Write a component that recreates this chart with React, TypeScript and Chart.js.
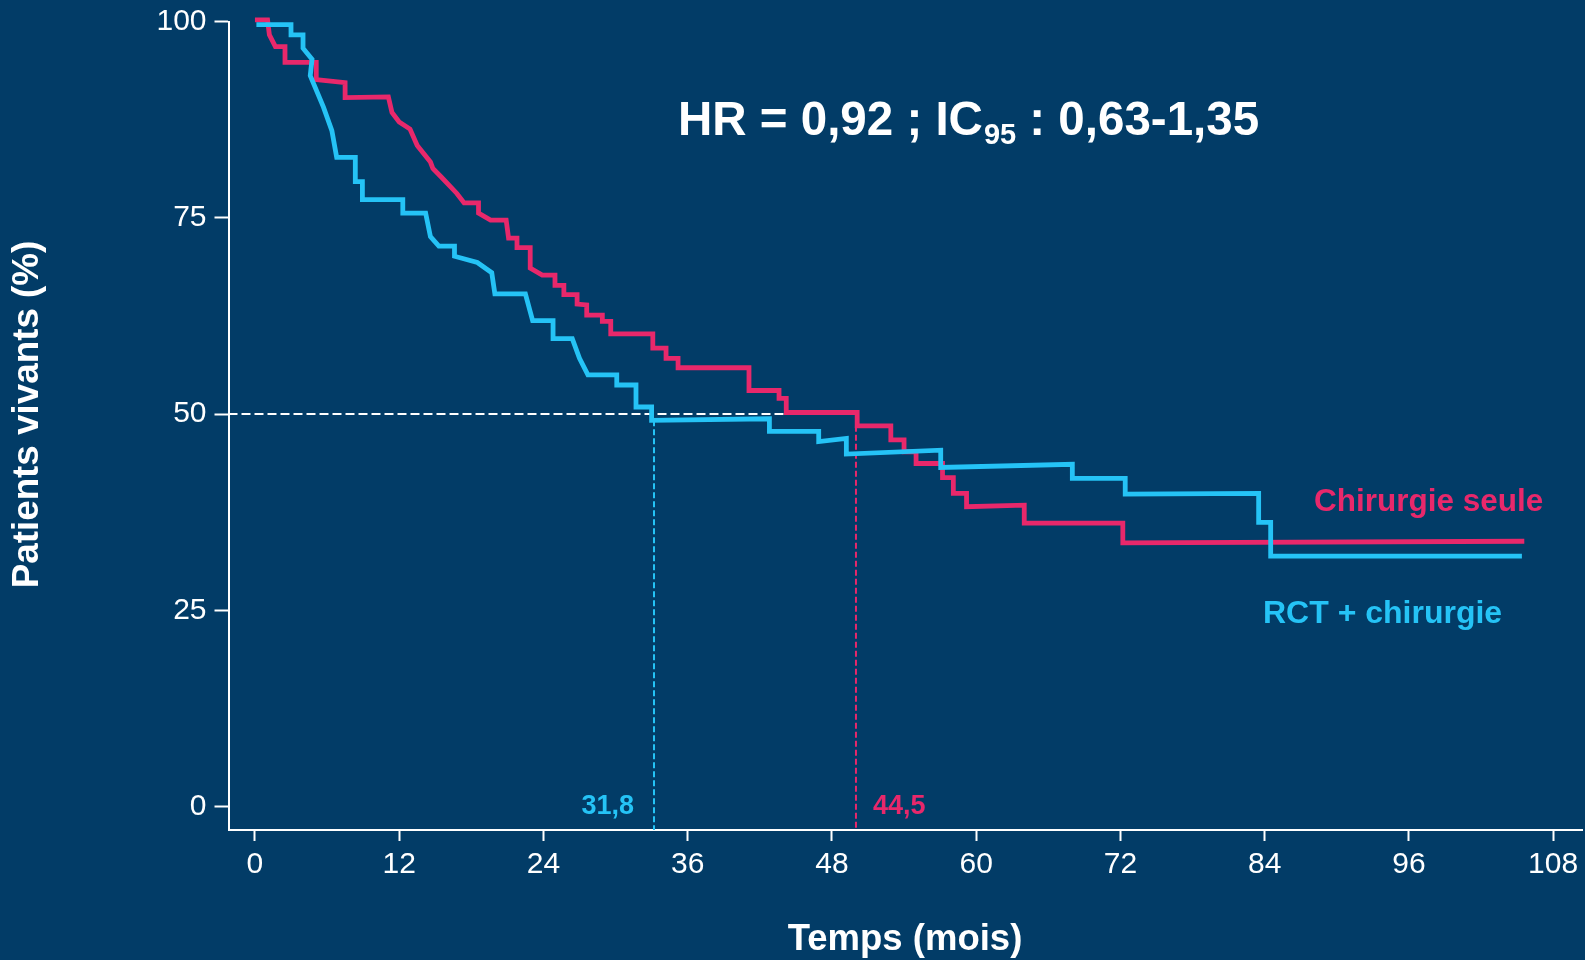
import React, { useEffect, useRef } from "react";
import { Chart, registerables } from "chart.js";

Chart.register(...registerables);

const FONT = "'Liberation Sans', Arial, sans-serif";
const BG = "#023c67";
const RED = "#e8286b";
const BLUE = "#25c3f6";
const WHITE = "#ffffff";

// Axis definition
const xTicks = [0, 12, 24, 36, 48, 60, 72, 84, 96, 108];
const yTicks = [0, 25, 50, 75, 100];
const xMin = -2.2;
const xMax = 110.4;
const yMin = -2.98;
const yMax = 100;

// Chirurgie seule (red)
const chirX = [
  0, 1.05, 1.2, 1.7, 2.5, 2.5, 5.1, 5.1, 7.5, 7.5, 11.1, 11.4, 12.0, 12.9, 13.5, 14.6, 14.8, 15.5,
  16.8, 17.4, 18.6, 18.6, 19.6, 20.9, 21.1, 21.8, 21.8, 22.9, 22.9, 23.9, 24.96, 24.96, 25.7, 25.7,
  26.8, 26.8, 27.6, 27.6, 28.9, 28.9, 29.6, 29.6, 33.1, 33.1, 34.2, 34.2, 35.2, 35.2, 41.1, 41.1,
  43.6, 43.6, 44.2, 44.2, 50.1, 50.1, 52.9, 52.9, 54.0, 54.0, 55.0, 55.0, 57.2, 57.2, 58.1, 58.1,
  59.2, 59.2, 64.0, 64.0, 72.2, 72.2, 105.6,
];
const chirY = [
  100.2, 100.2, 98.3, 96.8, 96.8, 94.8, 94.8, 92.6, 92.2, 90.3, 90.4, 88.4, 87.2, 86.3, 84.2, 82.1, 81.3, 80.2,
  78.1, 76.9, 76.9, 75.6, 74.7, 74.7, 72.4, 72.4, 71.2, 71.2, 68.6, 67.7, 67.7, 66.4, 66.4, 65.2,
  65.2, 64.0, 63.9, 62.6, 62.6, 61.8, 61.8, 60.2, 60.2, 58.4, 58.4, 57.1, 57.1, 55.9, 55.9, 53.0,
  53.0, 52.0, 52.0, 50.2, 50.2, 48.5, 48.5, 46.7, 46.7, 45.2, 45.2, 43.7, 43.7, 41.9, 41.9, 39.9,
  39.9, 38.2, 38.4, 36.1, 36.1, 33.6, 33.8,
];

// RCT + chirurgie (blue)
const rctX = [
  0.12, 3.0, 3.0, 4.0, 4.0, 4.75, 4.6, 5.7, 6.4, 6.8, 8.35, 8.35, 8.94, 8.94, 12.3, 12.3, 14.2, 14.6,
  15.3, 16.6, 16.6, 18.5, 19.7, 19.96, 22.5, 23.1, 24.8, 24.8, 26.4, 27.0, 27.7, 30.1, 30.1, 31.7,
  31.7, 33.0, 33.0, 42.8, 42.8, 46.9, 46.9, 49.2, 49.2, 57.05, 57.05, 68.0, 68.0, 72.4, 72.4, 83.5,
  83.5, 84.5, 84.5, 105.4,
];
const rctY = [
  99.6, 99.6, 98.3, 98.3, 96.6, 95.2, 93.1, 89.1, 86.1, 82.7, 82.7, 79.6, 79.6, 77.3, 77.3, 75.6, 75.6, 72.6,
  71.4, 71.4, 70.1, 69.3, 68.0, 65.3, 65.3, 61.9, 61.9, 59.6, 59.6, 57.1, 55.0, 55.0, 53.7, 53.7,
  50.9, 50.9, 49.2, 49.4, 47.8, 47.8, 46.5, 46.9, 44.9, 45.4, 43.2, 43.6, 41.8, 41.8, 39.8, 39.9,
  36.2, 36.2, 31.9, 31.9,
];

// Median guide lines
const medianLevel = 50;
const medianRctX = 33.2;
const medianRctY = 49.2;
const medianChirX = 50.0;
const medianChirY = 48.5;
const medianRctLabel = "31,8";
const medianChirLabel = "44,5";

// Texts
const hrMain = "HR = 0,92 ; IC";
const hrSub = "95";
const hrTail = " : 0,63-1,35";
const xTitle = "Temps (mois)";
const yTitle = "Patients vivants (%)";
const chirLabel = "Chirurgie seule";
const rctLabel = "RCT + chirurgie";

const zip = (xs: number[], ys: number[]) => xs.map((x, i) => ({ x, y: ys[i] }));

const textPlugin = {
  id: "texts",
  beforeDraw(chart: any) {
    const { ctx, width, height } = chart;
    ctx.save();
    ctx.fillStyle = BG;
    ctx.fillRect(0, 0, width, height);
    ctx.restore();
  },
  afterDraw(chart: any) {
    const { ctx } = chart;
    const x = chart.scales.x;
    const y = chart.scales.y;
    ctx.save();
    // HR text
    ctx.fillStyle = WHITE;
    ctx.textAlign = "left";
    ctx.textBaseline = "alphabetic";
    let hx = 678;
    const hy = 135;
    ctx.font = `bold 47.5px ${FONT}`;
    ctx.fillText(hrMain, hx, hy);
    hx += ctx.measureText(hrMain).width + 1;
    ctx.font = `bold 29px ${FONT}`;
    ctx.fillText(hrSub, hx, hy + 9);
    hx += ctx.measureText(hrSub).width;
    ctx.font = `bold 47.5px ${FONT}`;
    ctx.fillText(hrTail, hx, hy);

    // Axis titles
    ctx.textBaseline = "middle";
    ctx.textAlign = "center";
    ctx.font = `bold 36.5px ${FONT}`;
    ctx.fillText(xTitle, 905, 940);
    ctx.save();
    ctx.translate(28, 414.5);
    ctx.rotate(-Math.PI / 2);
    ctx.font = `bold 36.8px ${FONT}`;
    ctx.fillText(yTitle, 0, 0);
    ctx.restore();

    // Series labels
    ctx.textAlign = "left";
    ctx.font = `bold 31.5px ${FONT}`;
    ctx.fillStyle = RED;
    ctx.fillText(chirLabel, 1314, 502);
    ctx.font = `bold 32px ${FONT}`;
    ctx.fillStyle = BLUE;
    ctx.fillText(rctLabel, 1263, 614);

    // Median labels
    ctx.font = `bold 27px ${FONT}`;
    ctx.textAlign = "right";
    ctx.fillStyle = BLUE;
    ctx.fillText(medianRctLabel, x.getPixelForValue(medianRctX) - 20, y.getPixelForValue(0));
    ctx.textAlign = "left";
    ctx.fillStyle = RED;
    ctx.fillText(medianChirLabel, x.getPixelForValue(medianChirX) + 17, y.getPixelForValue(0));
    ctx.restore();
  },
};

export default function App() {
  const ref = useRef<HTMLCanvasElement | null>(null);

  useEffect(() => {
    document.body.style.margin = "0";
    document.body.style.background = BG;
    const canvas = ref.current;
    if (!canvas) return;
    const chart = new Chart(canvas, {
      type: "line",
      data: {
        datasets: [
          {
            label: rctLabel,
            data: zip(rctX, rctY),
            borderColor: BLUE,
            borderWidth: 4.8,
            pointRadius: 0,
            tension: 0,
            fill: false,
            clip: false as any,
            borderJoinStyle: "miter",
          },
          {
            label: chirLabel,
            data: zip(chirX, chirY),
            borderColor: RED,
            borderWidth: 4.8,
            pointRadius: 0,
            tension: 0,
            fill: false,
            clip: false as any,
            borderJoinStyle: "miter",
          },
          {
            label: "median",
            data: [
              { x: xMin, y: medianLevel },
              { x: medianChirX, y: medianLevel },
            ],
            borderColor: WHITE,
            borderWidth: 2,
            borderDash: [9, 4],
            pointRadius: 0,
            fill: false,
          },
          {
            label: "median rct",
            data: [
              { x: medianRctX, y: medianRctY },
              { x: medianRctX, y: yMin },
            ],
            borderColor: BLUE,
            borderWidth: 2,
            borderDash: [6, 3],
            pointRadius: 0,
            fill: false,
          },
          {
            label: "median chir",
            data: [
              { x: medianChirX, y: medianChirY },
              { x: medianChirX, y: yMin },
            ],
            borderColor: RED,
            borderWidth: 2,
            borderDash: [6, 3],
            pointRadius: 0,
            fill: false,
          },
        ],
      },
      options: {
        responsive: false,
        animation: false,
        devicePixelRatio: 1,
        layout: { padding: { top: 21.5, right: 3, left: 0, bottom: 0 } },
        plugins: {
          legend: { display: false },
          tooltip: { enabled: false },
          title: { display: false },
        },
        scales: {
          x: {
            type: "linear",
            min: xMin,
            max: xMax,
            afterBuildTicks: (s: any) => {
              s.ticks = xTicks.map((v) => ({ value: v }));
            },
            afterFit: (s: any) => {
              s.height = 130;
              s.paddingLeft = 0;
              s.paddingRight = 0;
            },
            border: { display: true, color: WHITE, width: 2 },
            grid: {
              display: true,
              drawOnChartArea: false,
              drawTicks: true,
              tickLength: 11,
              tickColor: WHITE,
              tickWidth: 2,
            },
            ticks: {
              color: WHITE,
              font: { family: FONT, size: 30 },
              padding: 6,
              maxRotation: 0,
              autoSkip: false,
              callback: (v: any) => String(v),
            },
          },
          y: {
            type: "linear",
            min: yMin,
            max: yMax,
            afterBuildTicks: (s: any) => {
              s.ticks = yTicks.map((v) => ({ value: v }));
            },
            afterFit: (s: any) => {
              s.width = 228.5;
              s.paddingTop = 0;
              s.paddingBottom = 0;
            },
            border: { display: true, color: WHITE, width: 2 },
            grid: {
              display: true,
              drawOnChartArea: false,
              drawTicks: true,
              tickLength: 14,
              tickColor: WHITE,
              tickWidth: 2,
            },
            ticks: {
              color: WHITE,
              font: { family: FONT, size: 30 },
              padding: 8,
              autoSkip: false,
              callback: (v: any) => String(v),
            },
          },
        },
      },
      plugins: [textPlugin],
    });
    return () => chart.destroy();
  }, []);

  return (
    <div style={{ width: 1585, height: 960, background: BG }}>
      <canvas ref={ref} width={1585} height={960} style={{ display: "block" }} />
    </div>
  );
}
